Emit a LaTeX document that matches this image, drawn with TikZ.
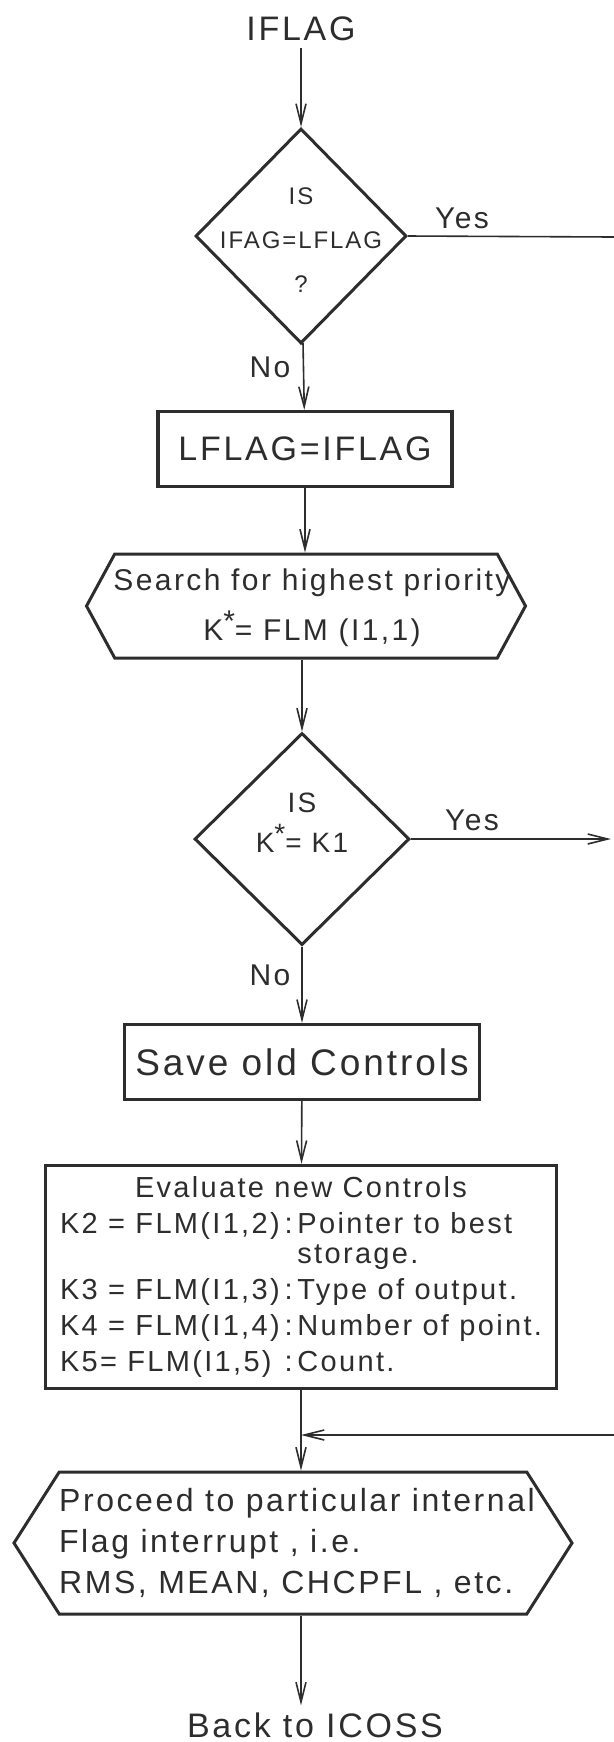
\documentclass[tikz,border=0pt]{standalone}
\usepackage{fontspec}
\setmainfont[LetterSpace=8]{Liberation Sans}
\usepackage{tikz}
\usetikzlibrary{arrows.meta,shapes.geometric,shapes.symbols}

\definecolor{ink}{RGB}{45,45,45}

\tikzset{
  line/.style={draw=ink, line width=0.8pt},
  flow/.style={line, -{Straight Barb[length=10pt,width=5pt]}},
  decision/.style={diamond, draw=ink, line width=1.5pt, inner sep=0pt},
  process/.style={rectangle, draw=ink, line width=1.6pt, inner xsep=2pt},
  hexa/.style={signal, signal to=west and east, draw=ink, line width=1.5pt, inner sep=0pt}
}

\begin{document}
\begin{tikzpicture}[x=0.5pt,y=-0.5pt, every node/.style={text=ink}]
  \useasboundingbox (0,0) rectangle (614,1742);
  \node (0) at (301,29) {\fontsize{17}{20}\selectfont IFLAG};
  % first test
  \node[decision, minimum width=105.5pt, minimum height=107.5pt] (1) at (301,236) {};
  \node[align=center, font=\fontsize{12}{22}\selectfont] (1a) at (301,240) {IS\\IFAG=LFLAG\\?};
  \node[process, minimum width=147pt, minimum height=37.5pt, font=\fontsize{17}{20}\selectfont] (2) at (305,449) {LFLAG=IFLAG};
  \node[hexa, minimum width=219.5pt, minimum height=52pt, signal pointer angle=123] (3) at (306,606) {};
  \node[align=center, font=\fontsize{15}{25}\selectfont] (3a) at (312,608) {Search for highest priority\\K\raisebox{0.6ex}{*}= FLM (I1,1)};
  % second test
  \node[decision, minimum width=107.5pt, minimum height=106pt] (4) at (302,839) {};
  \node[align=center, font=\fontsize{14}{20}\selectfont] (4a) at (302,823) {IS\\K\raisebox{0.6ex}{*}= K1};
  \node[process, minimum width=177.5pt, minimum height=37.5pt, font=\fontsize{18.5}{22}\selectfont] (5) at (302,1062) {Save old Controls};
  \node[process, minimum width=255.5pt, minimum height=111pt, font=\fontsize{14.5}{18}\selectfont] (6) at (301,1277) {%
    \begin{tabular}{@{}l@{\,}c@{\,}l@{}}
      \multicolumn{3}{c}{Evaluate new Controls}\\
      K2 = FLM(I1,2) & : & Pointer to best\\[-3pt]
       & & storage.\\
      K3 = FLM(I1,3) & : & Type of output.\\
      K4 = FLM(I1,4) & : & Number of point.\\
      K5= FLM(I1,5) & : & Count.
    \end{tabular}};
  \node[hexa, minimum width=279pt, minimum height=71pt, signal pointer angle=115] (7) at (293,1543) {};
  \node[align=left, font=\fontsize{16}{20.5}\selectfont] (7a) at (297,1543) {Proceed to particular internal\\Flag interrupt , i.e.\\RMS, MEAN, CHCPFL , etc.};
  \node (8) at (315,1725) {\fontsize{17}{20}\selectfont Back to ICOSS};
  % branch labels
  \node (no1) at (270,367) {\fontsize{15}{18}\selectfont No};
  \node (yes1) at (462,218) {\fontsize{15}{18}\selectfont Yes};
  \node (no2) at (270,975) {\fontsize{15}{18}\selectfont No};
  \node (yes2) at (472,820) {\fontsize{15}{18}\selectfont Yes};
  \coordinate (y1) at (614,237);
  \coordinate (y2) at (611,839);
  \coordinate (r) at (614,1435);
  \draw[flow] (0) -- (1);
  \draw[flow] (1) -- (2);
  \draw[flow] (2.south) -- (2.south |- 3.north);
  \draw[flow] (3.south -| 4.north) -- (4.north);
  \draw[flow] (4) -- (5);
  \draw[flow] (5) -- (6);
  \draw[flow] (6.south) -- (6.south |- 7.north);
  \draw[flow] (7.south -| 6.south) -- (6.south |- 8.north);
  \draw[line] (1.east) -- (y1);
  \draw[flow] (4.east) -- (y2);
  \draw[flow] (r) -- (r -| 6.south);
\end{tikzpicture}
\end{document}
